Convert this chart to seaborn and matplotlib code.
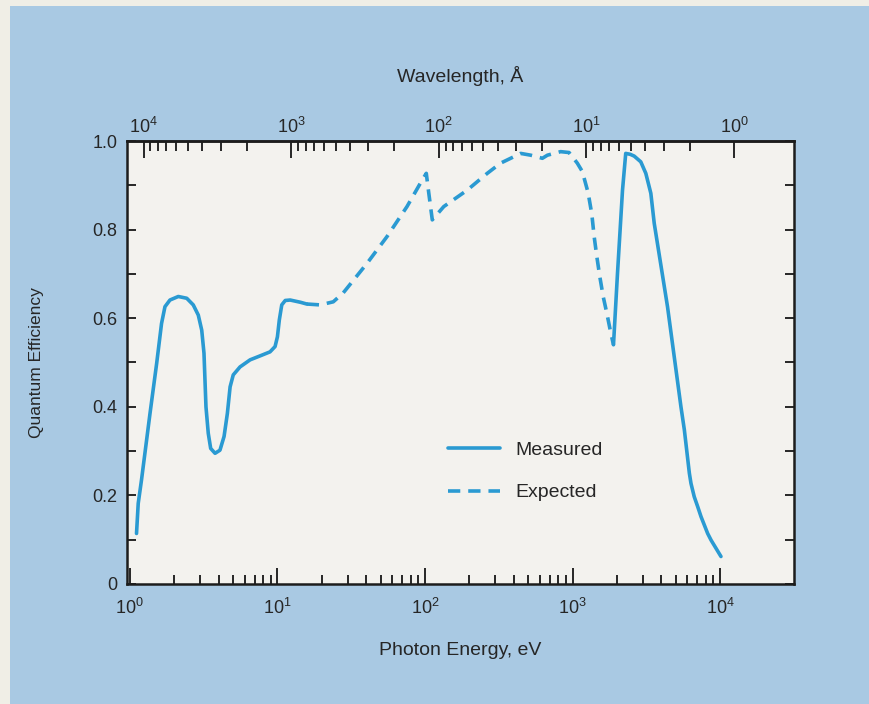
import numpy as np
import pandas as pd
import matplotlib
matplotlib.use("Agg")
import matplotlib.pyplot as plt
import seaborn as sns
from matplotlib.ticker import FixedLocator, NullFormatter
from matplotlib.lines import Line2D
from matplotlib.patches import Rectangle

# ---------------- data ----------------
# Measured, low-energy part (photon energy in eV, quantum efficiency)
meas1_energy = [1.11, 1.14, 1.20, 1.37, 1.52, 1.64, 1.73, 1.87, 2.13, 2.43,
                2.69, 2.91, 3.07, 3.18, 3.23, 3.28, 3.40, 3.53, 3.78, 4.08,
                4.35, 4.58, 4.78, 5.02, 5.58, 6.53, 7.64, 8.91, 9.64, 10.0,
                10.3, 10.7, 11.3, 12.2, 14.3, 15.8]
meas1_qe = [0.114, 0.182, 0.235, 0.385, 0.498, 0.588, 0.626, 0.641, 0.649, 0.645,
            0.630, 0.607, 0.573, 0.521, 0.460, 0.400, 0.340, 0.306, 0.295, 0.302,
            0.333, 0.385, 0.445, 0.472, 0.490, 0.506, 0.515, 0.524, 0.536, 0.558,
            0.596, 0.630, 0.640, 0.641, 0.636, 0.632]

# Expected (dashed)
exp_energy = [15.8, 19.5, 23.9, 27.9, 40.5, 55.2, 75.5, 93.1, 102, 106,
              112, 134, 193, 264, 325, 445, 520, 624, 675, 830,
              946, 1076, 1164, 1274, 1349, 1400, 1459, 1528, 1611, 1706,
              1816, 1892]
exp_qe = [0.632, 0.630, 0.637, 0.657, 0.724, 0.784, 0.852, 0.905, 0.927, 0.883,
          0.822, 0.852, 0.889, 0.927, 0.950, 0.972, 0.968, 0.961, 0.968, 0.976,
          0.974, 0.950, 0.931, 0.883, 0.835, 0.784, 0.739, 0.694, 0.649, 0.611,
          0.566, 0.540]

# Measured, high-energy part
meas2_energy = [1892, 2014, 2178, 2290, 2455, 2612, 2897, 3133, 3388, 3573,
                4395, 5420, 5715, 6180, 6339, 6668, 7031, 7413, 8222, 8670,
                10120]
meas2_qe = [0.540, 0.701, 0.889, 0.972, 0.970, 0.966, 0.953, 0.927, 0.882, 0.814,
            0.626, 0.400, 0.348, 0.250, 0.227, 0.197, 0.175, 0.152, 0.114, 0.099,
            0.062]

energy_ticks = [1, 10, 100, 1000, 10000]
energy_tick_labels = ["$10^{0}$", "$10^{1}$", "$10^{2}$", "$10^{3}$", "$10^{4}$"]
energy_minor = [m * 10.0 ** k for k in range(0, 4) for m in range(2, 10)]
wavelength_ticks = [1e4, 1e3, 1e2, 1e1, 1e0]
wavelength_tick_labels = ["$10^{4}$", "$10^{3}$", "$10^{2}$", "$10^{1}$", "$10^{0}$"]
wavelength_minor = [m * 10.0 ** k for k in range(0, 4) for m in range(2, 10)]
qe_ticks = [0, 0.2, 0.4, 0.6, 0.8, 1.0]
qe_tick_labels = ["0", "0.2", "0.4", "0.6", "0.8", "1.0"]
qe_minor = [0.1, 0.3, 0.5, 0.7, 0.9]
series_labels = ["Measured", "Expected"]
HC = 12398.4  # eV * Angstrom

# ---------------- style ----------------
BG = "#a9c9e3"
FACE = "#f3f2ee"
LINE = "#2a9ad2"
INK = "#262626"
LW = 2.6
DASH = (0, (3.4, 2.2))

sns.set_style("ticks")
plt.rcParams["font.family"] = ["Liberation Sans", "DejaVu Sans"]
plt.rcParams["mathtext.fontset"] = "custom"
plt.rcParams["mathtext.rm"] = "Liberation Sans"
plt.rcParams["mathtext.it"] = "Liberation Sans:italic"
plt.rcParams["mathtext.bf"] = "Liberation Sans:bold"
plt.rcParams["text.color"] = INK
plt.rcParams["axes.labelcolor"] = INK
plt.rcParams["xtick.color"] = INK
plt.rcParams["ytick.color"] = INK

fig = plt.figure(figsize=(8.69, 7.04), dpi=100, facecolor=BG)
# scan border on top / left
fig.add_artist(Rectangle((0, 0), 10 / 869, 1, transform=fig.transFigure,
                         color="#f0eee6", zorder=-5, lw=0))
fig.add_artist(Rectangle((0, 1 - 6 / 704), 1, 6 / 704, transform=fig.transFigure,
                         color="#f0eee6", zorder=-5, lw=0))

ax = fig.add_axes([0.146, 0.1705, 0.7677, 0.6292])
ax.set_facecolor(FACE)
ax.set_xscale("log")

df_m1 = pd.DataFrame({"energy": meas1_energy, "qe": meas1_qe})
df_ex = pd.DataFrame({"energy": exp_energy, "qe": exp_qe})
df_m2 = pd.DataFrame({"energy": meas2_energy, "qe": meas2_qe})

sns.lineplot(data=df_m1, x="energy", y="qe", ax=ax, color=LINE, lw=LW,
             sort=False, estimator=None, solid_capstyle="round",
             solid_joinstyle="round")
sns.lineplot(data=df_ex, x="energy", y="qe", ax=ax, color=LINE, lw=LW,
             sort=False, estimator=None, linestyle=DASH)
sns.lineplot(data=df_m2, x="energy", y="qe", ax=ax, color=LINE, lw=LW,
             sort=False, estimator=None, solid_capstyle="round",
             solid_joinstyle="round")

ax.set_xlim(10 ** -0.02, 10 ** 4.5)
ax.set_ylim(0, 1)

ax.set_xticks(energy_ticks, energy_tick_labels)
ax.xaxis.set_minor_locator(FixedLocator(energy_minor))
ax.xaxis.set_minor_formatter(NullFormatter())
ax.set_yticks(qe_ticks, qe_tick_labels)
ax.set_yticks(qe_minor, minor=True)

ax.tick_params(axis="x", which="major", direction="in", length=11.5, width=1.4,
               top=False, bottom=True, labelsize=13, pad=10)
ax.tick_params(axis="x", which="minor", direction="in", length=6.5, width=1.4,
               top=False, bottom=True)
ax.tick_params(axis="y", which="both", direction="in", length=6.5, width=1.4,
               left=True, right=True, labelright=False, labelsize=13, pad=7)

for sp in ax.spines.values():
    sp.set_visible(True)
    sp.set_linewidth(1.8)
    sp.set_color("#1c1c1c")

ax.set_xlabel("Photon Energy, eV", fontsize=14, labelpad=17)
ax.set_ylabel("Quantum Efficiency", fontsize=12.5)
ax.yaxis.set_label_coords(-0.124, 0.5)


def e2l(e):
    e = np.asarray(e, dtype=float)
    with np.errstate(divide="ignore"):
        return HC / e


sec = ax.secondary_xaxis("top", functions=(e2l, e2l))
sec.set_xticks(wavelength_ticks, wavelength_tick_labels)
sec.xaxis.set_minor_locator(FixedLocator(wavelength_minor))
sec.xaxis.set_minor_formatter(NullFormatter())
sec.tick_params(axis="x", which="major", direction="in", length=12, width=1.4,
                labelsize=13, pad=3)
sec.tick_params(axis="x", which="minor", direction="in", length=7.5, width=1.4)
for sp in sec.spines.values():
    sp.set_linewidth(1.8)
    sp.set_color("#1c1c1c")
sec.set_xlabel("Wavelength, Å", fontsize=14, labelpad=25)

handles = [Line2D([], [], color=LINE, lw=LW),
           Line2D([], [], color=LINE, lw=LW, linestyle=DASH)]
ax.legend(handles, series_labels, loc="upper left", bbox_to_anchor=(0.481, 0.322),
          frameon=False, fontsize=14, handlelength=2.7, handletextpad=0.8,
          labelspacing=1.28, borderpad=0, borderaxespad=0)

fig.savefig("out.png", dpi=100, facecolor=BG)
